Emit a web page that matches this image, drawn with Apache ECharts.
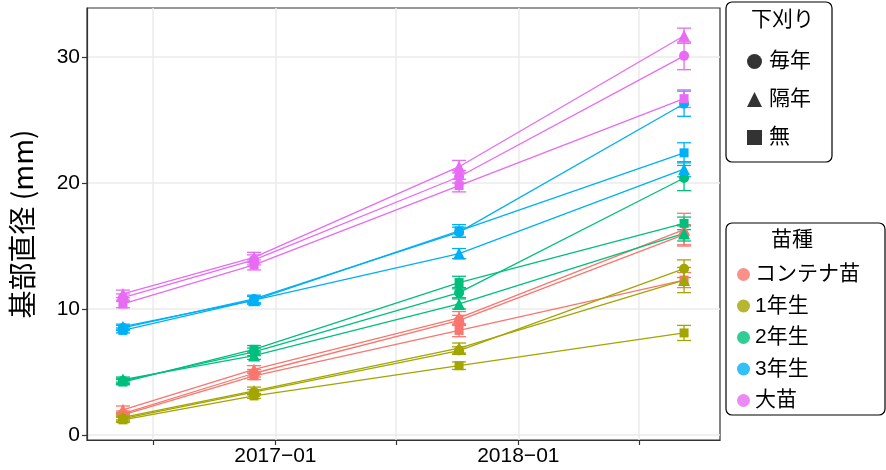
<!DOCTYPE html>
<html>
<head>
<meta charset="utf-8">
<script src="https://cdn.jsdelivr.net/npm/echarts@6/dist/echarts.min.js"></script>
<style>
  html, body { margin: 0; padding: 0; background: #fff; }
  #chart { width: 886px; height: 470px; }
</style>
</head>
<body>
<div id="chart"></div>
<script>
// 調査日
const dates = ['2016-05-17', '2016-11-30', '2017-10-04', '2018-09-07'];
const species = ['コンテナ苗', '1年生', '2年生', '3年生', '大苗'];
const cuts = ['毎年', '隔年', '無'];
const colors = ['#F8766D', '#A3A500', '#00BF7D', '#00B0F6', '#E76BF3'];
const shapes = ['circle', 'triangle', 'rect'];

// 平均値 [苗種][下刈り][調査日]
const means = [
  [[1.7, 4.9, 9.1, 15.9], [2.0, 5.2, 9.3, 16.3], [1.6, 4.7, 8.3, 12.3]],
  [[1.3, 3.4, 6.7, 13.2], [1.4, 3.5, 6.9, 12.3], [1.2, 3.1, 5.5, 8.1]],
  [[4.3, 6.6, 11.3, 20.4], [4.4, 6.3, 10.4, 16.0], [4.2, 6.8, 12.1, 16.8]],
  [[8.5, 10.8, 16.1, 26.3], [8.6, 10.7, 14.4, 21.1], [8.3, 10.7, 16.2, 22.4]],
  [[10.9, 13.9, 20.5, 30.1], [11.2, 14.1, 21.3, 31.7], [10.4, 13.5, 19.8, 26.7]]
];
// 標準誤差
const errs = [
  [[0.2, 0.3, 0.4, 0.8], [0.3, 0.3, 0.5, 1.3], [0.2, 0.3, 0.5, 0.6]],
  [[0.2, 0.2, 0.3, 0.7], [0.2, 0.3, 0.4, 1.0], [0.2, 0.2, 0.3, 0.6]],
  [[0.2, 0.3, 0.4, 1.0], [0.2, 0.3, 0.4, 0.6], [0.2, 0.3, 0.5, 0.5]],
  [[0.2, 0.3, 0.4, 1.0], [0.2, 0.3, 0.4, 0.6], [0.2, 0.3, 0.5, 0.8]],
  [[0.3, 0.4, 0.5, 1.1], [0.3, 0.4, 0.5, 0.6], [0.3, 0.4, 0.5, 0.7]]
];

const yTicks = [0, 10, 20, 30];
const xTicks = ['2016-07-01', '2017-01-01', '2017-07-01', '2018-01-01', '2018-07-01'];
const xLabels = ['2017-01-01', '2018-01-01'];

const FONT = '"Liberation Sans", "Noto Sans CJK JP", sans-serif';
const ts = s => new Date(s + 'T00:00:00Z').getTime();

function renderErr(params, api) {
  const x = api.value(0);
  const lo = api.coord([x, api.value(1)]);
  const hi = api.coord([x, api.value(2)]);
  const w = 7;
  const style = { stroke: api.visual('color'), lineWidth: 1.3 };
  return {
    type: 'group',
    children: [
      { type: 'line', shape: { x1: lo[0], y1: lo[1], x2: hi[0], y2: hi[1] }, style: style },
      { type: 'line', shape: { x1: lo[0] - w, y1: lo[1], x2: lo[0] + w, y2: lo[1] }, style: style },
      { type: 'line', shape: { x1: hi[0] - w, y1: hi[1], x2: hi[0] + w, y2: hi[1] }, style: style }
    ]
  };
}

const series = [];
species.forEach((sp, i) => {
  cuts.forEach((c, j) => {
    const m = means[i][j], e = errs[i][j];
    series.push({
      name: sp + '_' + c,
      type: 'line',
      data: dates.map((d, k) => [ts(d), m[k]]),
      symbol: shapes[j],
      symbolSize: j === 1 ? 12 : (j === 2 ? 9 : 10),
      showAllSymbol: true,
      color: colors[i],
      lineStyle: { width: 1.3, color: colors[i] },
      itemStyle: { color: colors[i] },
      z: 3,
      silent: true
    });
    series.push({
      name: sp + '_' + c + '_err',
      type: 'custom',
      renderItem: renderErr,
      data: dates.map((d, k) => [ts(d), m[k] - e[k], m[k] + e[k]]),
      encode: { x: 0, y: [1, 2] },
      color: colors[i],
      itemStyle: { color: colors[i] },
      z: 2,
      silent: true
    });
  });
});
// 凡例用ダミー系列
cuts.forEach((c, j) => {
  series.push({ name: c, type: 'scatter', data: [], symbol: shapes[j], color: '#000', itemStyle: { color: '#000' } });
});
species.forEach((sp, i) => {
  series.push({ name: sp, type: 'scatter', data: [], symbol: 'circle', color: colors[i], itemStyle: { color: colors[i] } });
});

const chart = echarts.init(document.getElementById('chart'));
chart.setOption({
  animation: false,
  backgroundColor: '#fff',
  textStyle: { fontFamily: FONT },
  grid: { left: 78, right: 166, top: 8, bottom: 30, show: true, borderColor: '#333', borderWidth: 1.2, backgroundColor: 'transparent' },
  xAxis: {
    type: 'value',
    min: ts('2016-03-24'),
    max: ts('2018-10-31'),
    axisLine: { show: true, onZero: false, lineStyle: { color: '#333', width: 1.2 } },
    axisTick: { show: true, length: 5, lineStyle: { color: '#333', width: 1.2 }, customValues: xTicks.map(ts) },
    axisLabel: {
      customValues: xLabels.map(ts),
      color: '#000', fontSize: 21, fontFamily: FONT, margin: 6,
      formatter: v => { const d = new Date(v); return d.getUTCFullYear() + '\u2212' + String(d.getUTCMonth() + 1).padStart(2, '0'); }
    },
    splitLine: { show: true, lineStyle: { color: '#EBEBEB', width: 1.5 } }
  },
  yAxis: {
    type: 'value',
    min: -0.4,
    max: 33.9,
    name: '基部直径 (mm)',
    nameLocation: 'middle',
    nameRotate: 90,
    nameGap: 51,
    nameTextStyle: { color: '#000', fontSize: 28, fontFamily: '"Noto Sans CJK JP", sans-serif' },
    axisLine: { show: true, onZero: false, lineStyle: { color: '#333', width: 1.2 } },
    axisTick: { show: true, length: 5, lineStyle: { color: '#333', width: 1.2 }, customValues: yTicks },
    axisLabel: { customValues: yTicks, color: '#000', fontSize: 21, fontFamily: FONT, margin: 7 },
    splitLine: { show: true, lineStyle: { color: '#EBEBEB', width: 1.5 } }
  },
  title: [
    { text: '下刈り', left: 746, top: 5, textStyle: { fontSize: 21, fontWeight: 'normal', color: '#000', fontFamily: FONT } },
    { text: '苗種', left: 766, top: 225, textStyle: { fontSize: 21, fontWeight: 'normal', color: '#000', fontFamily: FONT } }
  ],
  legend: [
    {
      data: cuts, orient: 'vertical', left: 742, top: 46,
      itemWidth: 15, itemHeight: 15, itemGap: 17,
      textStyle: { fontSize: 21, color: '#000', fontFamily: FONT, padding: [0, 0, 0, 2] },
      selectedMode: false
    },
    {
      data: species, orient: 'vertical', left: 732, top: 259,
      itemWidth: 13, itemHeight: 13, itemGap: 10.5,
      textStyle: { fontSize: 21, color: '#000', fontFamily: FONT, padding: [0, 0, 0, 0] },
      selectedMode: false
    }
  ],
  graphic: [
    { type: 'rect', shape: { x: 726, y: 2, width: 106, height: 160, r: 6 }, style: { fill: '#fff', stroke: '#000', lineWidth: 1.2 }, z: -1 },
    { type: 'rect', shape: { x: 726, y: 223, width: 159, height: 192, r: 6 }, style: { fill: '#fff', stroke: '#000', lineWidth: 1.2 }, z: -1 }
  ],
  series: series
});
</script>
</body>
</html>
